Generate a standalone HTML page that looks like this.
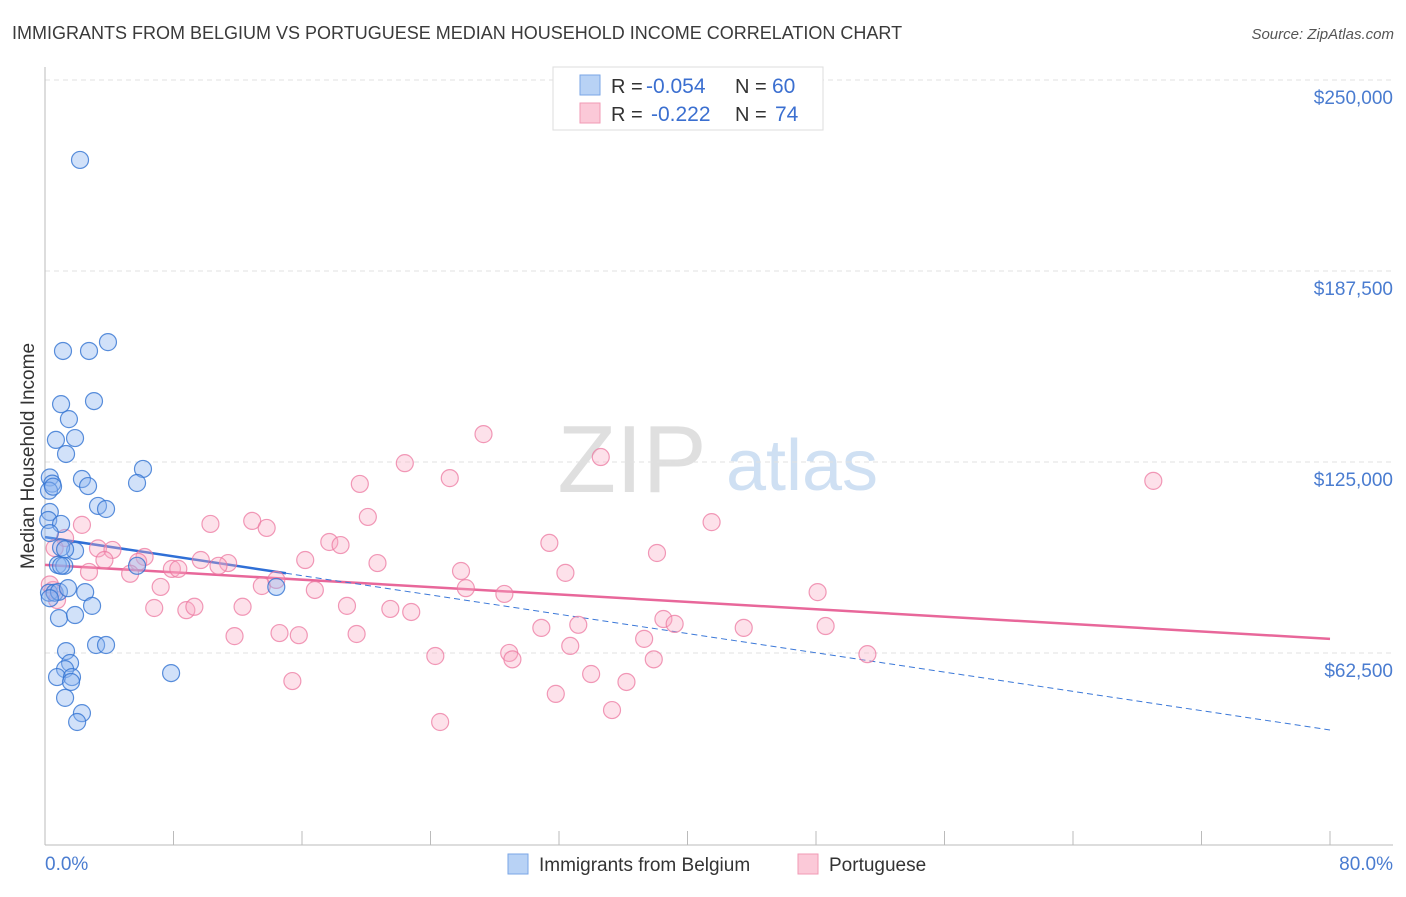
<!DOCTYPE html>
<html><head><meta charset="utf-8"><style>
body{margin:0;background:#fff;font-family:"Liberation Sans",sans-serif;}
svg text{font-family:"Liberation Sans",sans-serif;}
</style></head><body>
<svg id="chart" width="1406" height="892" xmlns="http://www.w3.org/2000/svg">
<text x="12" y="39" font-size="18" fill="#3a3a3a">IMMIGRANTS FROM BELGIUM VS PORTUGUESE MEDIAN HOUSEHOLD INCOME CORRELATION CHART</text>
<text x="1394" y="39" font-size="15" fill="#555" font-style="italic" text-anchor="end">Source: ZipAtlas.com</text>
<g>
<text x="632" y="492" font-size="96" fill="#d8d8d8" font-family="Liberation Serif" text-anchor="middle" opacity="0.8">ZIP</text>
<text x="802" y="490" font-size="72" fill="#bcd3ee" text-anchor="middle" opacity="0.7">atlas</text>
</g>
<g id="grid"></g>
<g id="axes"></g>
<g id="trends"></g>
<g id="pts"></g>
<text x="34" y="456" font-size="19" fill="#333" text-anchor="middle" transform="rotate(-90 34 456)">Median Household Income</text>
<text x="45" y="870" font-size="19" fill="#4a7cd0">0.0%</text>
<text x="1393" y="870" font-size="19" fill="#4a7cd0" text-anchor="end">80.0%</text>
<g>
<rect x="553" y="67" width="270" height="63" fill="#fff" stroke="#ddd"/>
<rect x="580" y="75" width="20" height="20" fill="#b8d2f5" stroke="#7aa6e6"/>
<rect x="580" y="103" width="20" height="20" fill="#fbc9d8" stroke="#f09ab5"/>
<text x="611" y="93" font-size="20" fill="#333">R =</text>
<text x="646" y="93" font-size="21" fill="#3b6fd0">-0.054</text>
<text x="735" y="93" font-size="20" fill="#333">N =</text>
<text x="772" y="93" font-size="21" fill="#3b6fd0">60</text>
<text x="611" y="121" font-size="20" fill="#333">R =</text>
<text x="651" y="121" font-size="21" fill="#3b6fd0">-0.222</text>
<text x="735" y="121" font-size="20" fill="#333">N =</text>
<text x="775" y="121" font-size="21" fill="#3b6fd0">74</text>
</g>
<g>
<rect x="508" y="854" width="20" height="20" fill="#b8d2f5" stroke="#7aa6e6"/>
<text x="539" y="871" font-size="19" fill="#333">Immigrants from Belgium</text>
<rect x="798" y="854" width="20" height="20" fill="#fbc9d8" stroke="#f09ab5"/>
<text x="829" y="871" font-size="19" fill="#333">Portuguese</text>
</g>
</svg>
<script>
const yTicks=[62500,125000,187500,250000];
const yTickLabels=["$62,500","$125,000","$187,500","$250,000"];
const xTicks=[0,8,16,24,32,40,48,56,64,72,80];
const belgiumX=[2.18,1.12,2.74,3.92,1.0,3.05,1.49,0.68,1.87,1.31,6.1,2.3,5.73,2.68,0.3,0.45,0.25,0.5,3.3,3.8,0.3,0.2,1.0,0.3,1.87,1.0,1.25,0.8,1.2,1.0,5.73,0.25,0.6,0.87,1.43,2.5,2.93,0.87,1.87,3.18,3.8,1.31,1.56,1.25,0.75,1.68,1.62,1.25,2.3,2.0,7.85,14.4,0.3];
const belgiumY=[229400,166900,166900,169800,149500,150500,144600,137800,138400,133200,128300,125000,123700,122700,125500,123500,121200,122500,116200,115200,114200,111600,110300,107300,101500,102600,102000,96900,96600,96600,96600,87800,87800,88100,89300,88000,83500,79500,80500,70700,70700,68700,64800,62800,60200,60200,58600,53400,48400,45500,61500,89700,86000];
const portX=[27.3,22.4,34.6,25.2,19.6,69.0,12.9,10.3,13.8,20.1,41.5,2.3,17.7,18.4,31.4,38.1,1.25,3.3,4.2,6.2,3.7,5.8,16.2,20.7,9.7,11.4,10.8,7.9,8.3,2.74,5.3,25.9,32.4,7.2,13.5,14.4,16.8,26.2,28.6,48.1,6.8,8.8,9.3,12.3,18.8,21.5,22.8,38.5,39.2,30.9,33.2,48.6,43.5,11.8,14.6,15.8,19.4,37.3,32.7,28.9,24.3,29.1,37.9,51.2,34.0,36.2,15.4,31.8,35.3,24.6,0.5,0.75,0.6,0.3];
const portY=[139700,130200,132200,125300,123400,124400,111300,110300,109000,112600,110900,110000,104400,103400,104100,100800,105700,102300,101800,99500,98500,97900,98500,97500,98500,97500,96600,95600,95600,94600,94000,94900,94300,89700,90000,92000,88700,89300,87400,88000,82800,82100,83200,83200,83500,82500,81500,79200,77600,76300,77300,76900,76300,73600,74600,73900,74300,72700,70400,68100,67100,66000,66000,67700,61200,58600,58900,54700,49400,45500,88700,85400,102400,90500];
const belgiumTrend=[106000,42900];
const portTrend=[96900,72700];
const NS="http://www.w3.org/2000/svg";
const X=v=>45+v*(1285/80);
const Y=v=>97+(250000-v)/327.2;
function mk(tag,attrs,parent){const e=document.createElementNS(NS,tag);for(const k in attrs)e.setAttribute(k,attrs[k]);document.getElementById(parent).appendChild(e);return e;}
yTicks.forEach((t,i)=>{
  const gy=Y(t)-17;
  const l=mk('line',{x1:45,x2:1393,y1:gy,y2:gy,stroke:'#e2e2e2','stroke-dasharray':'5,4'},'grid');
  
  
  const tx=mk('text',{x:1393,y:Y(t)+7,'font-size':19,fill:'#4a7cd0','text-anchor':'end'},'grid');
  tx.textContent=yTickLabels[i];
  
  
});
const topg=mk('line',{x1:45,x2:1393,y1:80,y2:80,stroke:'#e2e2e2','stroke-dasharray':'5,4'},'grid');


const ya=mk('line',{x1:45,x2:45,y1:67,y2:845,stroke:'#bbb'},'axes');


const xa=mk('line',{x1:45,x2:1393,y1:845,y2:845,stroke:'#bbb'},'axes');


xTicks.forEach(t=>{
  const l=mk('line',{x1:X(t),x2:X(t),y1:831,y2:845,stroke:'#bbb'},'axes');
  
  
});
function dot(x,y,fill,stroke,name){
  const c=mk('circle',{cx:X(x),cy:Y(y),r:8.5,fill:fill,stroke:stroke,'stroke-width':1.2},'pts');
  
  
}
portX.forEach((x,i)=>dot(x,portY[i],'rgba(248,170,195,0.35)','rgba(236,120,160,0.75)','portuguese-point'));
belgiumX.forEach((x,i)=>dot(x,belgiumY[i],'rgba(140,180,240,0.4)','rgba(50,115,210,0.8)','belgium-point'));
const bAt=v=>belgiumTrend[0]+(belgiumTrend[1]-belgiumTrend[0])*v/80;
const pAt=v=>portTrend[0]+(portTrend[1]-portTrend[0])*v/80;
const pt=mk('line',{x1:X(0),y1:Y(pAt(0)),x2:X(80),y2:Y(pAt(80)),stroke:'#e8679a','stroke-width':2.5},'trends');


const bd=mk('line',{x1:X(15),y1:Y(bAt(15)),x2:X(80),y2:Y(bAt(80)),stroke:'#3b78d8','stroke-width':1,'stroke-dasharray':'6,4'},'trends');


const bs=mk('line',{x1:X(0),y1:Y(bAt(0)),x2:X(15),y2:Y(bAt(15)),stroke:'#2f6fd6','stroke-width':2.5},'trends');


</script>
</body></html>
